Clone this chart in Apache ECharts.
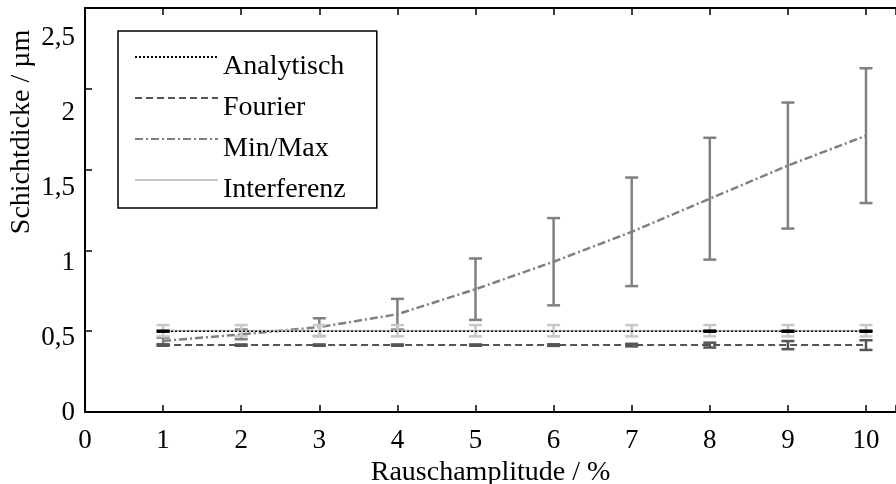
<!DOCTYPE html>
<html><head><meta charset="utf-8">
<script src="https://cdn.jsdelivr.net/npm/echarts@6/dist/echarts.min.js"></script>
<style>html,body{margin:0;padding:0;background:#fff}#c{width:896px;height:484px}</style>
</head><body><div id="c"></div>
<script>
const xValues = [1, 2, 3, 4, 5, 6, 7, 8, 9, 10];
const xTicks = [0, 1, 2, 3, 4, 5, 6, 7, 8, 9, 10];
const yTicks = [0, 0.5, 1, 1.5, 2, 2.5];
const analytisch = [0.5, 0.5, 0.5, 0.5, 0.5, 0.5, 0.5, 0.5, 0.5, 0.5];
const analytischErr = [0.003, null, null, null, null, null, null, 0.003, 0.003, 0.003];
const fourier = [0.414, 0.414, 0.414, 0.414, 0.414, 0.414, 0.414, 0.414, 0.414, 0.414];
const fourierErr = [0.004, 0.004, 0.004, 0.004, 0.004, 0.005, 0.008, 0.015, 0.025, 0.03];
const minMax = [0.44, 0.48, 0.525, 0.605, 0.76, 0.93, 1.115, 1.32, 1.525, 1.71];
const minMaxErr = [0.02, 0.03, 0.055, 0.095, 0.19, 0.27, 0.336, 0.377, 0.39, 0.417];
const interferenz = [0.503, 0.503, 0.503, 0.503, 0.503, 0.503, 0.503, 0.503, 0.503, 0.503];
const interferenzErr = [0.035, 0.035, 0.035, 0.035, 0.035, 0.035, 0.035, 0.035, 0.035, 0.035];

const FONT = '"Liberation Serif", "DejaVu Serif", serif';
const C_AN = '#000000', C_FO = '#555555', C_MM = '#808080', C_IN = '#c8c8c8';

function pts(ys) { return xValues.map((x, i) => [x, ys[i]]); }
function errPts(ys, es) {
  const out = [];
  xValues.forEach((x, i) => { if (es[i] != null) out.push([x, ys[i] - es[i], ys[i] + es[i]]); });
  return out;
}
function errRender(color, width, capW) {
  return function (params, api) {
    const x = api.value(0), lo = api.value(1), hi = api.value(2);
    const p1 = api.coord([x, hi]), p2 = api.coord([x, lo]);
    const h = capW / 2;
    const style = { stroke: color, lineWidth: width, fill: null };
    return { type: 'group', children: [
      { type: 'line', shape: { x1: p1[0], y1: p1[1], x2: p2[0], y2: p2[1] }, style: style },
      { type: 'line', shape: { x1: p1[0] - h, y1: p1[1], x2: p1[0] + h, y2: p1[1] }, style: style },
      { type: 'line', shape: { x1: p2[0] - h, y1: p2[1], x2: p2[0] + h, y2: p2[1] }, style: style }
    ]};
  };
}
function errSeries(ys, es, color, width, z) {
  return { type: 'custom', xAxisIndex: 0, yAxisIndex: 0, z: z, silent: true,
    renderItem: errRender(color, width, 13), encode: { x: 0, y: [1, 2] },
    data: errPts(ys, es) };
}
const XMAX = 10.384;
const axisBlack = { lineStyle: { color: '#000', width: 2 } };
const tickIn = { inside: true, length: 7, lineStyle: { color: '#000', width: 1.5 } };

const chart = echarts.init(document.getElementById('c'), null, { renderer: 'canvas' });
chart.setOption({
  animation: false,
  backgroundColor: '#fff',
  grid: [
    { left: 85, top: 8, right: 0, bottom: 72, outerBoundsMode: 'none', containLabel: false },
    { left: 85, top: 8, right: 0, bottom: 71, outerBoundsMode: 'none', containLabel: false }
  ],
  graphic: [
    { type: 'text', x: 22, y: 132, rotation: Math.PI / 2, silent: true,
      style: { text: 'Schichtdicke / µm', fill: '#000', font: '28px ' + FONT, align: 'center', verticalAlign: 'middle' } }
  ],
  xAxis: [
    { gridIndex: 0, type: 'value', min: 0, max: XMAX, interval: 1, position: 'bottom',
      axisLine: axisBlack, axisTick: tickIn, splitLine: { show: false },
      axisLabel: { color: '#000', fontFamily: FONT, fontSize: 27, margin: 15,
        formatter: v => (xTicks.indexOf(v) >= 0 ? String(v) : '') },
      name: 'Rauschamplitude / %', nameLocation: 'middle', nameGap: 45,
      nameTextStyle: { color: '#000', fontFamily: FONT, fontSize: 28 } },
    { gridIndex: 0, type: 'value', min: 0, max: XMAX, interval: 1, position: 'top',
      axisLine: axisBlack, axisTick: tickIn, axisLabel: { show: false }, splitLine: { show: false } },
    { gridIndex: 1, type: 'value', min: 0, max: XMAX, show: false }
  ],
  yAxis: [
    { gridIndex: 0, type: 'value', min: 0, max: 2.5, interval: 0.5,
      axisLine: axisBlack, axisTick: tickIn, axisLabel: { show: false }, splitLine: { show: false } },
    { gridIndex: 1, type: 'value', min: 0, max: 2.7, interval: 0.5,
      axisLine: { show: false }, axisTick: { show: false }, splitLine: { show: false },
      axisLabel: { color: '#000', fontFamily: FONT, fontSize: 27, margin: 10,
        formatter: v => (yTicks.indexOf(v) >= 0 ? String(v).replace('.', ',') : '') } }
  ],
  legend: {
    orient: 'vertical', left: 118, top: 31,
    data: ['Analytisch', 'Fourier', 'Min/Max', 'Interferenz'],
    itemWidth: 83, itemHeight: 14, itemGap: -7,
    backgroundColor: '#fff', borderColor: '#000', borderWidth: 1.5, borderRadius: 0,
    padding: [2, 31, 4, 16],
    itemStyle: { opacity: 0 },
    formatter: name => '\n' + name,
    textStyle: { color: '#000', fontFamily: FONT, fontSize: 28, lineHeight: 20 }
  },
  series: [
    errSeries(minMax, minMaxErr, C_MM, 2.5, 2),
    errSeries(fourier, fourierErr, C_FO, 2.5, 3),
    errSeries(interferenz, interferenzErr, C_IN, 2.5, 4),
    errSeries(analytisch, analytischErr, C_AN, 2.5, 5),
    { name: 'Analytisch', type: 'line', data: pts(analytisch), symbol: 'none', z: 6,
      lineStyle: { color: C_AN, width: 1.5, type: [2, 2] }, itemStyle: { color: C_AN, opacity: 0 } },
    { name: 'Fourier', type: 'line', data: pts(fourier), symbol: 'none', z: 3,
      lineStyle: { color: C_FO, width: 2, type: [7, 4] }, itemStyle: { color: C_FO, opacity: 0 } },
    { name: 'Min/Max', type: 'line', data: pts(minMax), symbol: 'none', z: 2,
      lineStyle: { color: C_MM, width: 2.5, type: [8, 3, 2, 3] }, itemStyle: { color: C_MM, opacity: 0 } },
    { name: 'Interferenz', type: 'line', data: pts(interferenz), symbol: 'none', z: 4,
      lineStyle: { color: C_IN, width: 2, type: 'solid' }, itemStyle: { color: C_IN, opacity: 0 } }
  ]
});
</script></body></html>
